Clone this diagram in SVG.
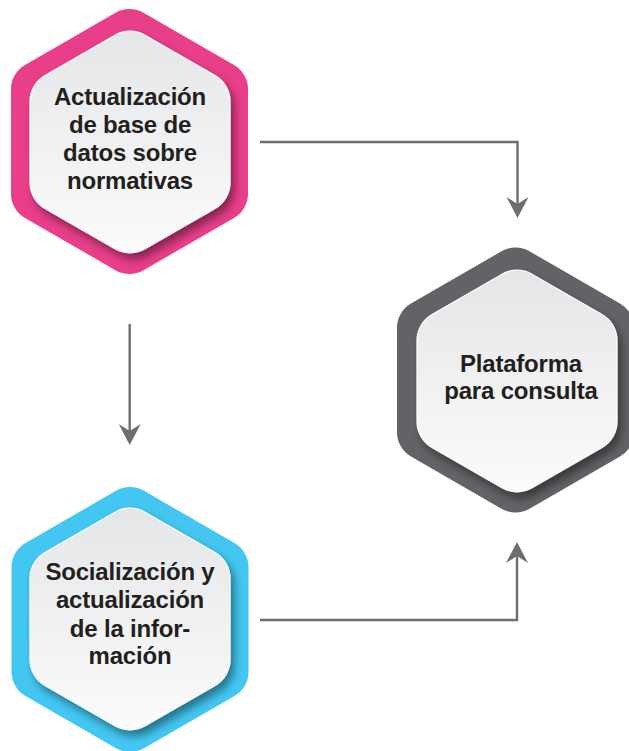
<svg xmlns="http://www.w3.org/2000/svg" width="629" height="751" viewBox="0 0 629 751">
  <defs>
    <path id="hexOuter" d="M14,-128.72 L104.5,-76.48 A28,28 0 0 1 118.5,-52.23 L118.5,52.23 A28,28 0 0 1 104.5,76.48 L14,128.72 A28,28 0 0 1 -14,128.72 L-104.5,76.48 A28,28 0 0 1 -118.5,52.23 L-118.5,-52.23 A28,28 0 0 1 -104.5,-76.48 L-14,-128.72 A28,28 0 0 1 14,-128.72 Z"/>
    <path id="hexInner" d="M15,-106.81 L85,-66.4 A30,30 0 0 1 100,-40.42 L100,40.42 A30,30 0 0 1 85,66.4 L15,106.81 A30,30 0 0 1 -15,106.81 L-85,66.4 A30,30 0 0 1 -100,40.42 L-100,-40.42 A30,30 0 0 1 -85,-66.4 L-15,-106.81 A30,30 0 0 1 15,-106.81 Z"/>
    <linearGradient id="innerGrad" x1="0" y1="0" x2="0" y2="1">
      <stop offset="0" stop-color="#e5e6e8"/>
      <stop offset="1" stop-color="#fbfbfb"/>
    </linearGradient>
    <filter id="shadow" x="-20%" y="-20%" width="150%" height="150%">
      <feDropShadow dx="4" dy="6" stdDeviation="4.5" flood-color="#000" flood-opacity="0.42"/>
    </filter>
    <marker id="arrow" viewBox="0 -11 21 22" refX="7" refY="0" markerWidth="21" markerHeight="22" markerUnits="userSpaceOnUse" orient="auto">
      <path d="M0,-11 L21,0 L0,11 L7,0 Z" fill="#6d6e71"/>
    </marker>
    <style>
      .inner { fill: url(#innerGrad); stroke: #ffffff; stroke-width: 1.2; filter: url(#shadow); }
      .label { font-family: "Liberation Sans", Arial, Helvetica, sans-serif; font-weight: bold; font-size: 24px; letter-spacing: -0.2px; fill: #231f20; text-anchor: middle; }
      .conn { fill: none; stroke: #6d6e71; stroke-width: 2.4; marker-end: url(#arrow); }
    </style>
  </defs>

  <g id="connectors">
    <path class="conn" d="M260,142 H517.5 V204"/>
    <path class="conn" d="M129.7,324 V431"/>
    <path class="conn" d="M260,620 H517 V556"/>
  </g>

  <g id="node-actualizacion">
    <use href="#hexOuter" fill="#e93e8a" transform="translate(129.5,141.5)"/>
    <use href="#hexInner" class="inner" transform="translate(130,142)"/>
    <text class="label" x="130" y="105">Actualización</text>
    <text class="label" x="130" y="133">de base de</text>
    <text class="label" x="130" y="161">datos sobre</text>
    <text class="label" x="130" y="189">normativas</text>
  </g>

  <g id="node-plataforma">
    <use href="#hexOuter" fill="#616366" transform="translate(515.5,380)"/>
    <use href="#hexInner" class="inner" transform="translate(517,381)"/>
    <text class="label" x="521" y="372">Plataforma</text>
    <text class="label" x="521" y="399">para consulta</text>
  </g>

  <g id="node-socializacion">
    <use href="#hexOuter" fill="#43c7f2" transform="translate(130,619.5)"/>
    <use href="#hexInner" class="inner" transform="translate(130,619)"/>
    <text class="label" x="130" y="580">Socialización y</text>
    <text class="label" x="130" y="608">actualización</text>
    <text class="label" x="130" y="637">de la infor-</text>
    <text class="label" x="130" y="664">mación</text>
  </g>
</svg>
